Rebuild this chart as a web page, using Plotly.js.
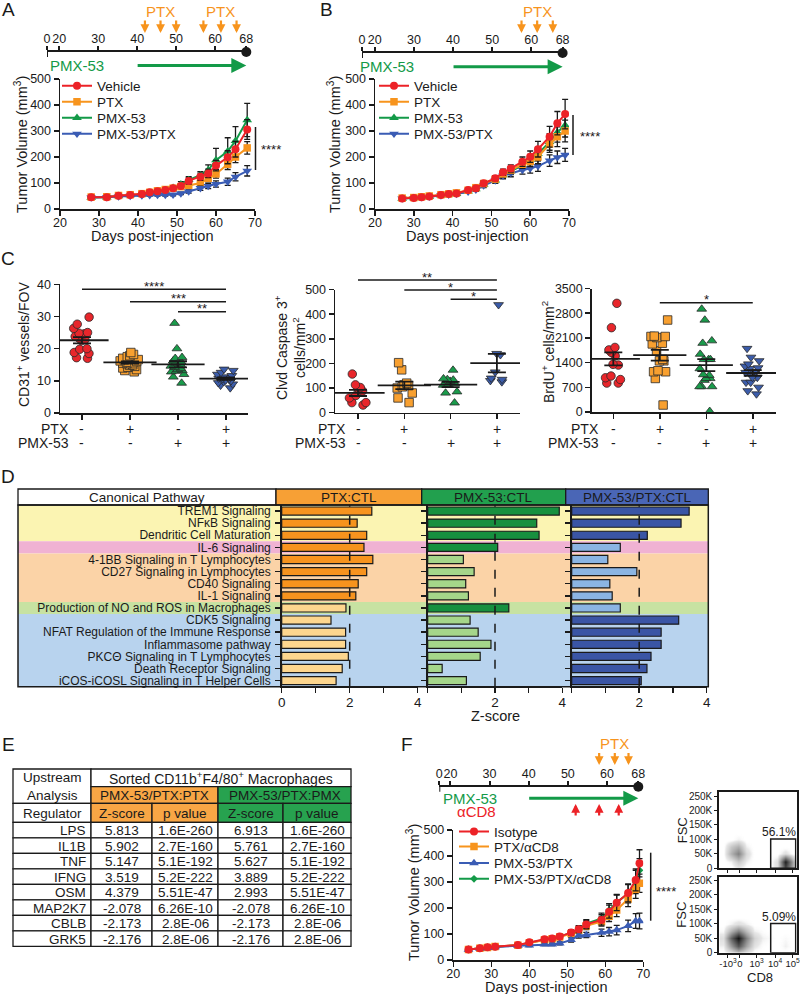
<!DOCTYPE html>
<html><head><meta charset="utf-8">
<script src="https://cdn.plot.ly/plotly-3.0.1.min.js"></script>
<style>html,body{margin:0;padding:0;background:#fff}#chart{width:800px;height:994px}</style>
</head><body><div id="chart"></div>
<script>
// ================= DATA =================
// Panel A – tumor growth
const aDays = [28, 32, 35, 38, 41, 43, 45, 47, 49, 51, 53, 56, 58, 60, 63, 65, 68];
const aVehicle    = [45, 45, 51, 54, 58, 64, 68, 73, 80, 88, 108, 124, 137, 167, 199, 230, 306];
const aVehicleErr = [3, 3, 3, 4, 4, 5, 5, 6, 7, 8, 12, 14, 16, 20, 25, 30, 38];
const aPTX        = [46, 47, 52, 55, 59, 64, 70, 75, 80, 86, 90, 100, 118, 135, 172, 200, 235];
const aPTXErr     = [3, 3, 3, 4, 4, 5, 5, 6, 7, 8, 10, 12, 14, 16, 20, 22, 24];
const aPMX        = [44, 45, 50, 53, 55, 60, 66, 72, 82, 95, 112, 130, 150, 188, 222, 262, 342];
const aPMXErr     = [3, 3, 3, 4, 4, 5, 6, 6, 8, 10, 12, 14, 20, 45, 52, 55, 64];
const aCombo      = [44, 45, 48, 50, 52, 53, 54, 54, 55, 60, 67, 80, 88, 96, 105, 124, 147];
const aComboErr   = [2, 2, 3, 3, 3, 3, 4, 4, 4, 5, 6, 8, 10, 12, 14, 16, 20];
const aPtxDays1 = [42, 46, 50];
const aPtxDays2 = [57, 61.5, 65.5];

// Panel B – tumor growth
const bDays = [27, 30, 32, 34, 37, 39, 41, 44, 46, 48, 51, 53, 55, 58, 60, 62, 65, 67, 69];
const bVehicle    = [40, 42, 45, 48, 54, 58, 60, 73, 80, 99, 118, 141, 156, 182, 201, 230, 278, 330, 365];
const bVehicleErr = [3, 3, 3, 3, 4, 4, 4, 5, 6, 8, 10, 12, 14, 18, 22, 30, 40, 45, 57];
const bPTX        = [42, 44, 47, 50, 55, 58, 62, 72, 82, 98, 115, 135, 150, 172, 183, 200, 250, 278, 300];
const bPTXErr     = [3, 3, 3, 3, 4, 4, 4, 5, 6, 8, 10, 12, 14, 16, 20, 26, 32, 38, 42];
const bPMX        = [40, 42, 45, 48, 52, 56, 58, 68, 76, 94, 110, 130, 146, 168, 190, 212, 258, 295, 322];
const bPMXErr     = [3, 3, 3, 3, 4, 4, 4, 5, 6, 8, 10, 12, 14, 16, 20, 26, 32, 38, 45];
const bCombo      = [40, 42, 45, 47, 52, 55, 58, 66, 74, 90, 110, 128, 138, 150, 156, 165, 186, 199, 208];
const bComboErr   = [3, 3, 3, 3, 4, 4, 4, 5, 6, 8, 10, 12, 14, 16, 18, 20, 22, 24, 25];
const bPtxDays = [57.5, 61.5, 65.5];

// Timelines
const timelineTicks = [0, 20, 30, 40, 50, 60, 68];
const timelineEnd = 68;
const pmxStartDay = 40;

// Panel C – dot plots
const cPTX = ['-', '+', '-', '+'];
const cPMX = ['-', '-', '+', '+'];
const cd31Vehicle = [29.8, 27.6, 26.3, 25.0, 24.8, 24.6, 23.3, 22.8, 22.5, 20.0, 19.8, 18.8, 18.5, 17.2, 17.0, 23.8];
const cd31PTX     = [18.8, 18.2, 17.8, 17.5, 17.0, 16.8, 16.5, 16.2, 16.0, 15.8, 15.5, 15.3, 15.0, 14.8, 14.5, 14.2, 14.0, 13.5, 13.2, 12.8, 16.6, 15.6];
const cd31PMX     = [27.9, 20.0, 17.0, 17.3, 16.2, 15.8, 15.5, 15.0, 14.6, 14.2, 13.8, 13.2, 12.8, 12.0, 11.2, 9.3, 13.5, 13.0];
const cd31Combo   = [13.6, 13.2, 12.6, 12.0, 11.6, 11.2, 11.0, 10.8, 10.5, 10.2, 10.0, 9.7, 9.4, 9.0, 8.6, 7.8, 10.6];
const casVehicle = [157, 113, 102, 100, 88, 70, 60, 41, 31, 41];
const casPTX     = [203, 174, 120, 113, 110, 105, 100, 80, 60, 41];
const casPMX     = [173, 138, 135, 133, 128, 118, 115, 112, 85, 80, 40];
const casCombo   = [438, 240, 235, 165, 140, 125, 135, 130];
const brduVehicle = [3080, 2390, 1830, 1760, 1690, 1590, 1350, 1330, 1020, 970, 920, 820, 820];
const brduPTX     = [2607, 2150, 2140, 2140, 2110, 1950, 1930, 1730, 1490, 1450, 1450, 1170, 1140, 1140, 950, 198];
const brduPMX     = [2918, 2607, 2020, 1950, 1640, 1490, 1490, 1490, 1230, 1060, 1040, 950, 950, 900, 720, 720, 720, 20];
const brduCombo   = [1800, 1550, 1450, 1360, 1300, 1250, 1230, 1150, 1120, 1120, 1120, 980, 980, 840, 840, 700, 600, 510];

// Panel D – canonical pathways (z-scores)
const pathways = ['TREM1 Signaling', 'NFκB Signaling', 'Dendritic Cell Maturation', 'IL-6 Signaling',
  '4-1BB Signaling in T Lymphocytes', 'CD27 Signaling in Lymphocytes', 'CD40 Signaling', 'IL-1 Signaling',
  'Production of NO and ROS in Macrophages', 'CDK5 Signaling', 'NFAT Regulation of the Immune Response',
  'Inflammasome pathway', 'PKCΘ Signaling in T Lymphocytes', 'Death Receptor Signaling',
  'iCOS-iCOSL Signaling in T Helper Cells'];
const zPTX   = [2.65, 2.22, 2.50, 2.42, 2.68, 2.50, 2.25, 2.18, 1.89, 1.45, 1.88, 1.88, 1.96, 1.78, 1.60];
const zPMX   = [3.91, 3.24, 3.31, 2.08, 1.06, 1.38, 1.13, 1.21, 2.41, 1.26, 1.50, 1.88, 1.56, 0.43, 1.15];
const zCombo = [3.48, 3.24, 2.24, 1.44, 1.07, 1.93, 1.13, 1.20, 1.44, 3.17, 2.65, 2.65, 2.35, 2.23, 2.06];
const comparisons = ['PTX:CTL', 'PMX-53:CTL', 'PMX-53/PTX:CTL'];
const bandSizes = [3, 1, 4, 1, 6];
const significanceZ = 2;

// Panel E – upstream regulators
const regulators = ['LPS', 'IL1B', 'TNF', 'IFNG', 'OSM', 'MAP2K7', 'CBLB', 'GRK5'];
const zVsPTX = [5.813, 5.902, 5.147, 3.519, 4.379, -2.078, -2.173, -2.176];
const pVsPTX = ['1.6E-260', '2.7E-160', '5.1E-192', '5.2E-222', '5.51E-47', '6.26E-10', '2.8E-06', '2.8E-06'];
const zVsPMX = [6.913, 5.761, 5.627, 3.889, 2.993, -2.078, -2.173, -2.176];
const pVsPMX = ['1.6E-260', '2.7E-160', '5.1E-192', '5.2E-222', '5.51E-47', '6.26E-10', '2.8E-06', '2.8E-06'];

// Panel F – tumor growth with CD8 depletion
const fDays = [24, 27, 29, 31, 37, 40, 44, 46, 48, 51, 53, 55, 59, 61, 63, 66, 68, 69];
const fIsotype     = [40, 45, 49, 51, 58, 68, 80, 83, 90, 106, 118, 137, 154, 186, 220, 258, 308, 372];
const fIsotypeErr  = [3, 3, 3, 3, 4, 5, 6, 7, 8, 10, 12, 15, 20, 25, 30, 35, 42, 52];
const fPTXaCD8     = [40, 45, 48, 52, 57, 66, 78, 82, 88, 102, 114, 132, 148, 168, 192, 235, 272, 295];
const fPTXaCD8Err  = [3, 3, 3, 3, 4, 5, 6, 7, 8, 10, 12, 15, 18, 20, 25, 30, 35, 35];
const fPMXPTX      = [40, 44, 47, 50, 55, 56, 60, 60, 64, 77, 94, 96, 105, 109, 115, 131, 150, 150];
const fPMXPTXErr   = [3, 3, 3, 3, 4, 4, 5, 5, 6, 8, 10, 10, 14, 16, 18, 22, 28, 30];
const fAll         = [40, 45, 49, 51, 57, 66, 78, 82, 90, 104, 120, 140, 160, 192, 222, 255, 300, 345];
const fAllErr      = [3, 3, 3, 3, 4, 5, 6, 7, 8, 10, 12, 15, 20, 25, 30, 35, 45, 45];
const fPtxDays = [58, 62, 65.5];
const fCd8Days = [52, 58, 63];

// Flow plots (density, CD8 display scale 0-100, FSC in K)
const flowX = [5, 15, 25, 35, 45, 55, 65, 75, 85, 95];
const flowY = [0, 25, 50, 75, 100, 125];
const flowTop = [
  [0, 0, 0.05, 0, 0, 0, 0, 0.1, 0.75, 0.3],
  [0, 0.05, 0.2, 0.05, 0, 0, 0, 0.1, 0.95, 0.3],
  [0, 0.3, 0.5, 0.12, 0, 0, 0, 0, 0.1, 0],
  [0, 0.2, 0.3, 0.05, 0, 0, 0, 0, 0, 0],
  [0, 0, 0.05, 0, 0, 0, 0, 0, 0, 0],
  [0, 0, 0, 0, 0, 0, 0, 0, 0, 0]];
const flowBottom = [
  [0, 0.08, 0.2, 0.08, 0, 0, 0, 0, 0, 0],
  [0.05, 0.4, 0.7, 0.35, 0.08, 0.02, 0, 0, 0.05, 0],
  [0.1, 0.65, 1.0, 0.5, 0.15, 0.05, 0.03, 0, 0.03, 0],
  [0.03, 0.3, 0.5, 0.25, 0.05, 0.02, 0, 0, 0, 0],
  [0, 0.05, 0.1, 0.05, 0, 0, 0, 0, 0, 0],
  [0, 0, 0, 0, 0, 0, 0, 0, 0, 0]];
const gatePct = ['56.1%', '5.09%'];
const flowXTicks = ['-10<sup>3</sup>', '0', '10<sup>3</sup>', '10<sup>4</sup>', '10<sup>5</sup>'];
const flowYTicks = ['0', '50K', '100K', '150K', '200K', '250K'];

// ================= STYLE / HELPERS =================
const FONT = 'Liberation Sans, Arial, Helvetica, sans-serif';
const INK = '#1a1a1a';
const RED = '#ec2227', ORANGE = '#f7941d', GREEN = '#139a48', BLUE = '#3a5cb4';
const W = 800, H = 994;
const px = v => v / W;
const py = v => 1 - v / H;

const traces = [], shapes = [], ann = [];
const layout = {
  width: W, height: H, margin: {l: 0, r: 0, t: 0, b: 0},
  paper_bgcolor: '#fff', plot_bgcolor: 'rgba(0,0,0,0)',
  font: {family: FONT, color: INK, size: 13},
  bargap: 0.33, boxgap: 0.3, boxmode: 'overlay',
  shapes: shapes, annotations: ann
};
const axBase = () => ({showgrid: false, zeroline: false, showline: true, linecolor: INK, linewidth: 1.5,
  ticks: 'outside', ticklen: 5, tickwidth: 1.5, tickcolor: INK, tickfont: {size: 12.5, color: INK},
  tickangle: 0, fixedrange: true});

function txt(t, x, y, opt) {
  ann.push(Object.assign({text: t, x: px(x), y: py(y), xref: 'paper', yref: 'paper', showarrow: false,
    xanchor: 'center', yanchor: 'middle', font: {size: 13, color: INK}}, opt || {}));
}
function rect(x0, y0, x1, y1, fill, opt) {
  shapes.push(Object.assign({type: 'rect', xref: 'paper', yref: 'paper', x0: px(x0), x1: px(x1), y0: py(y0), y1: py(y1),
    fillcolor: fill, line: {color: INK, width: 1.3}}, opt || {}));
}
// arrow-only annotation (tiny empty label so the shaft starts at the tail point)
function arrow(o) {
  ann.push(Object.assign({text: '', showarrow: true, arrowhead: 2, arrowsize: 0.8, arrowwidth: 2.2,
    font: {size: 1}, borderpad: 0, standoff: 0, startstandoff: 0}, o));
}
let legendCount = 0;
function newLegend(x, y) {
  legendCount++;
  const key = legendCount === 1 ? 'legend' : 'legend' + legendCount;
  layout[key] = {x: px(x), y: py(y), xanchor: 'left', yanchor: 'middle', bgcolor: 'rgba(0,0,0,0)',
    borderwidth: 0, font: {size: 13.5, color: INK}, itemclick: false, itemdoubleclick: false};
  return key;
}
const mean = a => a.reduce((s, v) => s + v, 0) / a.length;
const sem = a => { const m = mean(a); return Math.sqrt(a.reduce((s, v) => s + (v - m) * (v - m), 0) / (a.length - 1) / a.length); };

// ---------- growth panels ----------
function growthPanel(n, xDom, yTop, yBot, days, series, legX, legYs) {
  const sx = n === 1 ? '' : n;
  layout['xaxis' + sx] = Object.assign(axBase(), {domain: [px(xDom[0]), px(xDom[1])], range: [20, 70],
    tickvals: [20, 30, 40, 50, 60, 70], anchor: 'y' + sx, ticklabelstandoff: -4});
  layout['yaxis' + sx] = Object.assign(axBase(), {domain: [py(yBot), py(yTop)], range: [0, 500],
    tickvals: [0, 100, 200, 300, 400, 500], anchor: 'x' + sx});
  series.forEach(s => {
    traces.push({type: 'scatter', mode: 'lines+markers', name: s.name, x: days, y: s.y,
      xaxis: 'x' + sx, yaxis: 'y' + sx,
      legend: newLegend(legX, legYs[s.leg]),
      line: {color: s.color, width: 2},
      marker: {color: s.color, symbol: s.symbol, size: s.size},
      error_y: {type: 'data', array: s.err, visible: true, color: INK, thickness: 1.3, width: 3}});
  });
}
growthPanel(1, [60, 255], 79, 209, aDays, [
  {name: 'PMX-53', y: aPMX, err: aPMXErr, color: GREEN, symbol: 'triangle-up', size: 8.5, leg: 2},
  {name: 'PTX', y: aPTX, err: aPTXErr, color: ORANGE, symbol: 'square', size: 7.5, leg: 1},
  {name: 'PMX-53/PTX', y: aCombo, err: aComboErr, color: BLUE, symbol: 'triangle-down', size: 8.5, leg: 3},
  {name: 'Vehicle', y: aVehicle, err: aVehicleErr, color: RED, symbol: 'circle', size: 8, leg: 0}
], 57, [86, 102, 118, 134]);
growthPanel(2, [375, 569], 79, 209, bDays, [
  {name: 'PMX-53', y: bPMX, err: bPMXErr, color: GREEN, symbol: 'triangle-up', size: 8.5, leg: 2},
  {name: 'PMX-53/PTX', y: bCombo, err: bComboErr, color: BLUE, symbol: 'triangle-down', size: 8.5, leg: 3},
  {name: 'PTX', y: bPTX, err: bPTXErr, color: ORANGE, symbol: 'square', size: 7.5, leg: 1},
  {name: 'Vehicle', y: bVehicle, err: bVehicleErr, color: RED, symbol: 'circle', size: 8, leg: 0}
], 374, [86, 102, 118, 134]);
growthPanel(12, [453.3, 643.3], 830, 960, fDays, [
  {name: 'PMX-53/PTX/αCD8', y: fAll, err: fAllErr, color: GREEN, symbol: 'diamond', size: 6, leg: 3},
  {name: 'PTX/αCD8', y: fPTXaCD8, err: fPTXaCD8Err, color: ORANGE, symbol: 'square', size: 7.5, leg: 1},
  {name: 'PMX-53/PTX', y: fPMXPTX, err: fPMXPTXErr, color: BLUE, symbol: 'triangle-up', size: 8.5, leg: 2},
  {name: 'Isotype', y: fIsotype, err: fIsotypeErr, color: RED, symbol: 'circle', size: 8, leg: 0}
], 454, [831.7, 846.7, 863.3, 879]);

// axis titles for growth panels
[[21, 145], [334, 145], [413, 893]].forEach(p => txt('Tumor Volume (mm<sup>3</sup>)', p[0], p[1], {textangle: -90, font: {size: 14.5, color: INK}}));
[[152.5, 236], [467, 236], [546, 987]].forEach(p => txt('Days post-injection', p[0], p[1], {font: {size: 14.5, color: INK}}));
// significance
function vbar(x, y0, y1) { shapes.push({type: 'line', xref: 'paper', yref: 'paper', x0: px(x), x1: px(x), y0: py(y0), y1: py(y1), line: {color: INK, width: 1.5}}); }
vbar(255.5, 127, 170); txt('****', 271, 149, {font: {size: 13, color: INK}});
vbar(573, 115, 155); txt('****', 590, 136, {font: {size: 13, color: INK}});
vbar(650.7, 852.7, 920.7); txt('****', 666, 891, {font: {size: 13, color: INK}});

// ---------- timelines ----------
function timeline(id, x0, x1, start, yLine) {
  layout['xaxis' + id] = Object.assign(axBase(), {domain: [px(x0), px(x1)], range: [start, timelineEnd], side: 'top',
    anchor: 'y' + id, tickvals: timelineTicks.map((t, i) => i === 0 ? start : t), ticktext: timelineTicks.map(String),
    linewidth: 2, tickwidth: 2, ticklen: 4, ticklabelstandoff: -2, tickfont: {size: 12.5, color: INK}});
  layout['yaxis' + id] = {domain: [py(yLine + 4), py(yLine)], range: [0, 1], visible: false, fixedrange: true, anchor: 'x' + id};
  traces.push({type: 'scatter', mode: 'markers', x: [timelineEnd], y: [1], xaxis: 'x' + id, yaxis: 'y' + id,
    marker: {color: INK, size: 10}, cliponaxis: false, showlegend: false, hoverinfo: 'skip'});
  shapes.push({type: 'line', xref: 'x' + id, yref: 'paper', x0: start, x1: start, y0: py(yLine), y1: py(yLine + 5), line: {color: INK, width: 2}});
}
function downArrows(id, days, yTip, len, color, label, labelY) {
  days.forEach(d => arrow({xref: 'x' + id, yref: 'paper', x: d, y: py(yTip), ax: 0, ay: -len, arrowcolor: color}));
  if (label) ann.push({xref: 'x' + id, yref: 'paper', x: mean(days), y: py(labelY), text: label, showarrow: false,
    font: {size: 15, color: color}, xanchor: 'center', yanchor: 'middle'});
}
function pmxArrow(id, y) {
  arrow({xref: 'x' + id, yref: 'paper', x: timelineEnd, y: py(y), axref: 'x' + id, ax: pmxStartDay, ayref: 'pixel', ay: 0,
    arrowsize: 1, arrowwidth: 3, arrowcolor: GREEN});
}
timeline(3, 47, 246.3, 16.88, 52);
downArrows(3, aPtxDays1, 33, 13, ORANGE, 'PTX', 12);
downArrows(3, aPtxDays2, 33, 13, ORANGE, 'PTX', 12);
pmxArrow(3, 65.5);
txt('PMX-53', 77, 65.5, {font: {size: 15, color: GREEN}});

timeline(4, 362, 562.6, 16.74, 53);
downArrows(4, bPtxDays, 33, 13, ORANGE, 'PTX', 12);
pmxArrow(4, 66.7);
txt('PMX-53', 387, 66.5, {font: {size: 15, color: GREEN}});

timeline(5, 439.3, 638.3, 17.17, 786.7);
downArrows(5, fPtxDays, 765, 12.5, ORANGE, 'PTX', 743.5);
pmxArrow(5, 798.3);
fCd8Days.forEach(d => arrow({xref: 'x5', yref: 'paper', x: d, y: py(804), ax: 0, ay: 12, arrowcolor: RED}));
txt('PMX-53', 470, 798, {font: {size: 15, color: GREEN}});
txt('αCD8', 476, 811, {font: {size: 15, color: RED}});

// ---------- panel C ----------
const cColors = ['#e8262b', '#f8a030', '#1a9b4b', '#3b5caa'];
const cSymbols = ['circle', 'square', 'triangle-up', 'triangle-down'];
function dotPanel(id, xDom, xRange, yDom, yRange, yTicks, groups, sig, labelRight) {
  layout['xaxis' + id] = Object.assign(axBase(), {domain: [px(xDom[0]), px(xDom[1])], range: xRange,
    tickvals: [0, 1, 2, 3], showticklabels: false, anchor: 'y' + id});
  layout['yaxis' + id] = Object.assign(axBase(), {domain: [py(yDom[1]), py(yDom[0])], range: yRange,
    tickvals: yTicks, anchor: 'x' + id});
  groups.forEach((g, i) => traces.push({type: 'box', x0: i, y: g, xaxis: 'x' + id, yaxis: 'y' + id,
    boxpoints: 'all', jitter: 0.9, pointpos: 0, fillcolor: 'rgba(0,0,0,0)', line: {width: 0, color: 'rgba(0,0,0,0)'},
    whiskerwidth: 0, marker: {symbol: cSymbols[i], color: cColors[i], size: 8.5, line: {color: '#2a2a2a', width: 0.8}},
    showlegend: false, hoverinfo: 'y'}));
  traces.push({type: 'scatter', mode: 'markers', x: [0, 1, 2, 3], y: groups.map(mean), xaxis: 'x' + id, yaxis: 'y' + id,
    marker: {symbol: 'line-ew', size: 38, color: INK, line: {width: 1.8, color: INK}},
    error_y: {type: 'data', array: groups.map(sem), visible: true, width: 9, thickness: 1.8, color: INK},
    showlegend: false, hoverinfo: 'skip'});
  sig.forEach(s => {
    shapes.push({type: 'line', xref: 'x' + id, yref: 'paper', x0: s[0], x1: s[1], y0: py(s[2]), y1: py(s[2]), line: {color: INK, width: 1.5}});
    ann.push({xref: 'x' + id, yref: 'paper', x: (s[0] + s[1]) / 2, y: py(s[2] - 3), text: s[3], showarrow: false,
      font: {size: 13, color: INK}, xanchor: 'center', yanchor: 'middle'});
  });
  [0, 1, 2, 3].forEach(i => {
    ann.push({xref: 'x' + id, yref: 'paper', x: i, y: py(429), text: cPTX[i], showarrow: false, font: {size: 14, color: INK}});
    ann.push({xref: 'x' + id, yref: 'paper', x: i, y: py(443), text: cPMX[i], showarrow: false, font: {size: 14, color: INK}});
  });
  txt('PTX', labelRight, 429, {xanchor: 'right', font: {size: 14, color: INK}});
  txt('PMX-53', labelRight, 443, {xanchor: 'right', font: {size: 14, color: INK}});
}
dotPanel(6, [60, 248], [-0.458, 3.458], [284.3, 413], [0, 40], [0, 10, 20, 30, 40],
  [cd31Vehicle, cd31PTX, cd31PMX, cd31Combo], [[0, 3, 289.3, '****'], [1, 3, 301.7, '***'], [2, 3, 311.7, '**']], 71);
dotPanel(7, [335, 520], [-0.497, 3.499], [289.5, 412.7], [0, 500], [0, 100, 200, 300, 400, 500],
  [casVehicle, casPTX, casPMX, casCombo], [[0, 3, 280, '**'], [1, 3, 290, '*'], [2, 3, 299.3, '*']], 348);
dotPanel(8, [591.7, 776], [-0.465, 3.5], [288.5, 412], [0, 3500], [0, 700, 1400, 2100, 2800, 3500],
  [brduVehicle, brduPTX, brduPMX, brduCombo], [[1, 3, 302.7, '*']], 601);
txt('CD31<sup>+</sup> vessels/FOV', 23, 345, {textangle: -90, font: {size: 14, color: INK}});
txt('Clvd Caspase 3<sup>+</sup><br>cells/mm<sup>2</sup>', 290, 348, {textangle: -90, font: {size: 14, color: INK}});
txt('BrdU<sup>+</sup> cells/mm<sup>2</sup>', 548, 352, {textangle: -90, font: {size: 14, color: INK}});

// ---------- panel D ----------
const bandColors = ['#fbf4b2', '#f0b2d3', '#fbd3a7', '#c7e2a2', '#b8d3ee'];
let startRow = 0;
bandSizes.forEach((n, i) => {
  shapes.push({type: 'rect', xref: 'paper', yref: 'y9', x0: px(18), x1: px(708.3), y0: startRow - 0.5, y1: startRow + n - 0.5,
    fillcolor: bandColors[i], line: {width: 0}, layer: 'below'});
  startRow += n;
});
const dDom = [[281.7, 417.7], [427.7, 562.3], [571.7, 706.7]];
const dDark = ['#f7931e', '#17903f', '#3a55a5'];
const dLight = ['#fdd68e', '#a5d68a', '#8bb5e3'];
const hdrFill = ['#f7a035', '#22a04e', '#4a66b6'];
[zPTX, zPMX, zCombo].forEach((vals, k) => {
  const id = 9 + k;
  layout['xaxis' + id] = Object.assign(axBase(), {domain: [px(dDom[k][0]), px(dDom[k][1])], range: [0, 4],
    tickvals: [0, 1, 2, 3, 4], ticktext: k === 0 ? ['0', '', '2', '', '4'] : ['', '', '2', '', '4'],
    anchor: 'y' + id, tickfont: {size: 13.5, color: INK}, ticklabelstandoff: -2});
  layout['yaxis' + id] = Object.assign(axBase(), {domain: [py(686.7), py(505)], type: 'category',
    categoryorder: 'array', categoryarray: pathways, range: [pathways.length - 0.5, -0.5], anchor: 'x' + id,
    tickmode: 'array', tickvals: pathways, ticktext: pathways,
    showticklabels: k === 0, tickfont: {size: 12, color: INK}, ticklabelstandoff: 2});
  traces.push({type: 'bar', orientation: 'h', y: pathways, x: vals, xaxis: 'x' + id, yaxis: 'y' + id,
    marker: {color: vals.map(v => v >= significanceZ ? dDark[k] : dLight[k]), line: {color: INK, width: 1.2}},
    showlegend: false, hoverinfo: 'x'});
  shapes.push({type: 'line', xref: 'x' + id, yref: 'y' + id + ' domain', x0: significanceZ, x1: significanceZ, y0: 0, y1: 1,
    line: {color: INK, width: 1.5, dash: 'dash'}});
});
const hdrX = [18, 276, 421.7, 565.7, 708.3];
rect(hdrX[0], 489, hdrX[1], 505, '#fff');
txt('Canonical Pathway', (hdrX[0] + hdrX[1]) / 2, 497.5, {font: {size: 13.5, color: INK}});
comparisons.forEach((c, k) => {
  rect(hdrX[k + 1], 489, hdrX[k + 2], 505, hdrFill[k]);
  txt(c, (hdrX[k + 1] + hdrX[k + 2]) / 2, 497.5, {font: {size: 13.5, color: INK}});
});
rect(18, 505, 708.3, 686.7, 'rgba(0,0,0,0)', {line: {color: INK, width: 1.5}});
txt('Z-score', 495, 716, {font: {size: 14.5, color: INK}});

// ---------- panel E ----------
const colX = [13, 91, 152, 218, 283, 351];
const eOr = '#f8a645', eGr = '#27a24f';
const eFont = {size: 13.5, color: INK};
rect(colX[0], 769, colX[1], 803.3, '#fff');
txt('Upstream<br>Analysis', (colX[0] + colX[1]) / 2, 786, {font: eFont});
rect(colX[1], 769, colX[5], 786.7, '#fff');
txt('Sorted CD11b<sup>+</sup>F4/80<sup>+</sup> Macrophages', (colX[1] + colX[5]) / 2, 778, {font: {size: 14, color: INK}});
rect(colX[1], 786.7, colX[3], 803.3, eOr);
txt('PMX-53/PTX:PTX', (colX[1] + colX[3]) / 2, 795.5, {font: eFont});
rect(colX[3], 786.7, colX[5], 803.3, eGr);
txt('PMX-53/PTX:PMX', (colX[3] + colX[5]) / 2, 795.5, {font: eFont});
const subHdr = ['Regulator', 'Z-score', 'p value', 'Z-score', 'p value'];
const subFill = ['#fff', eOr, eOr, eGr, eGr];
subHdr.forEach((h, c) => { rect(colX[c], 803.3, colX[c + 1], 822.3, subFill[c]); txt(h, (colX[c] + colX[c + 1]) / 2, 813, {font: eFont}); });
const rowH = 15.5, row0 = 822.3;
regulators.forEach((r, i) => {
  const y0 = row0 + i * rowH, yc = y0 + rowH / 2 + 0.5;
  const cells = [r, zVsPTX[i].toFixed(3), pVsPTX[i], zVsPMX[i].toFixed(3), pVsPMX[i]];
  cells.forEach((v, c) => {
    rect(colX[c], y0, colX[c + 1], y0 + rowH, '#fff');
    if (c === 0) txt(v, colX[1] - 3, yc, {xanchor: 'right', font: eFont});
    else txt(v, (colX[c] + colX[c + 1]) / 2, yc, {font: eFont});
  });
});

// ---------- flow plots ----------
const flowXVals = [11.2, 26.7, 48.3, 72, 94.8];
[[13, 792.3, 868.3, flowTop, gatePct[0], false], [14, 876.7, 952.7, flowBottom, gatePct[1], true]].forEach(f => {
  const id = f[0];
  layout['xaxis' + id] = Object.assign(axBase(), {domain: [px(719.3), px(796.7)], range: [0, 100], anchor: 'y' + id,
    mirror: true, linewidth: 2, ticklen: 3, tickwidth: 1, tickvals: flowXVals, ticktext: flowXTicks,
    showticklabels: f[5], tickfont: {size: 9.5, color: INK}, ticklabelstandoff: -2, ticklabeloverflow: 'allow'});
  layout['yaxis' + id] = Object.assign(axBase(), {domain: [py(f[2]), py(f[1])], range: [0, 262.8], anchor: 'x' + id,
    mirror: true, linewidth: 2, ticklen: 3, tickwidth: 1, tickvals: [0, 50, 100, 150, 200, 250], ticktext: flowYTicks,
    tickfont: {size: 10, color: INK}});
  traces.push({type: 'heatmap', x: flowX, y: flowY, z: f[3], xaxis: 'x' + id, yaxis: 'y' + id, zsmooth: 'best',
    zmin: 0, zmax: 1, showscale: false, hoverinfo: 'skip',
    colorscale: [[0, 'rgba(255,255,255,0)'], [0.06, 'rgb(232,232,232)'], [0.5, 'rgb(130,130,130)'], [1, 'rgb(20,20,20)']]});
  shapes.push({type: 'rect', xref: 'x' + id, yref: 'y' + id, x0: 66.4, x1: 98.7, y0: 0, y1: 101, line: {color: INK, width: 1.5}});
  ann.push({xref: 'x' + id, yref: 'y' + id, x: 77, y: 124, text: f[4], showarrow: false, font: {size: 12, color: INK}});
  txt('FSC', 682, (f[1] + f[2]) / 2, {textangle: -90, font: {size: 13, color: INK}});
});
txt('CD8', 760, 977, {font: {size: 13, color: INK}});

// ---------- panel letters ----------
[['A', 8, 10], ['B', 326, 10], ['C', 8, 258], ['D', 8, 476], ['E', 8, 744], ['F', 407, 744]].forEach(l =>
  txt(l[0], l[1], l[2], {font: {size: 19, color: INK}}));

Plotly.newPlot('chart', traces, layout, {staticPlot: true});
</script>
</body></html>
